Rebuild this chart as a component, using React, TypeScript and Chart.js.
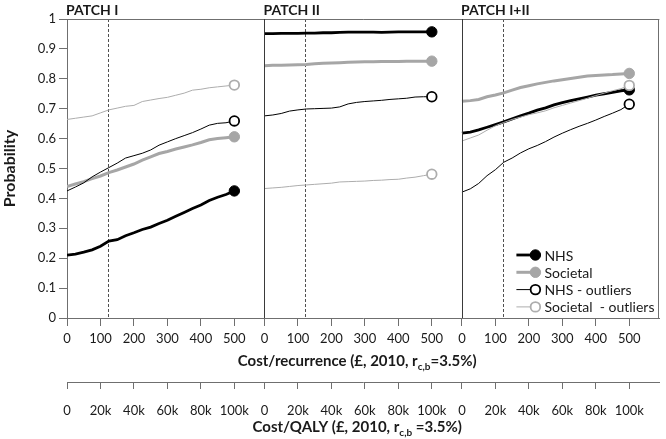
import { useEffect, useRef } from 'react';
import { Chart, registerables } from 'chart.js';

Chart.register(...registerables);

// ---------------- data ----------------
const PANELS = ['PATCH I', 'PATCH II', 'PATCH I+II'];
const PANEL_SPAN = 590; // axis units reserved for each panel (0..500 plotted)
const THRESHOLD = 122; // dashed reference line (cost/recurrence)
const COSTS = [0, 25, 50, 75, 100, 125, 150, 175, 200, 225, 250, 275, 300, 325, 350, 375, 400, 425, 450, 475, 500];
const X_TICKS = [0, 100, 200, 300, 400, 500];
const QALY_LABELS = ['0', '20k', '40k', '60k', '80k', '100k'];
const Y_TICKS = [0, 0.1, 0.2, 0.3, 0.4, 0.5, 0.6, 0.7, 0.8, 0.9, 1];
const SERIES_NAMES = ['NHS', 'Societal', 'NHS - outliers', 'Societal  - outliers'];

// PATCH I
const NHS_I = [0.210, 0.214, 0.220, 0.228, 0.240, 0.257, 0.262, 0.275, 0.285, 0.296, 0.304, 0.316, 0.327, 0.340, 0.353, 0.366, 0.378, 0.393, 0.404, 0.413, 0.425];
const SOC_I = [0.440, 0.448, 0.456, 0.466, 0.475, 0.486, 0.495, 0.505, 0.515, 0.528, 0.539, 0.550, 0.557, 0.565, 0.572, 0.579, 0.587, 0.596, 0.600, 0.603, 0.606];
const NHS_OUT_I = [0.425, 0.438, 0.452, 0.472, 0.488, 0.503, 0.518, 0.535, 0.543, 0.551, 0.562, 0.578, 0.589, 0.600, 0.610, 0.620, 0.632, 0.645, 0.651, 0.653, 0.659];
const SOC_OUT_I = [0.664, 0.668, 0.672, 0.676, 0.686, 0.696, 0.702, 0.708, 0.711, 0.724, 0.729, 0.734, 0.738, 0.745, 0.752, 0.762, 0.765, 0.770, 0.773, 0.776, 0.779];
// PATCH II
const NHS_II = [0.951, 0.951, 0.952, 0.952, 0.952, 0.953, 0.953, 0.954, 0.954, 0.955, 0.956, 0.956, 0.956, 0.956, 0.955, 0.956, 0.957, 0.957, 0.957, 0.957, 0.957];
const SOC_II = [0.844, 0.845, 0.845, 0.846, 0.847, 0.848, 0.850, 0.852, 0.853, 0.854, 0.855, 0.856, 0.857, 0.857, 0.858, 0.858, 0.858, 0.859, 0.859, 0.859, 0.859];
const NHS_OUT_II = [0.676, 0.679, 0.684, 0.692, 0.696, 0.699, 0.700, 0.701, 0.702, 0.706, 0.716, 0.721, 0.724, 0.726, 0.728, 0.731, 0.733, 0.735, 0.739, 0.740, 0.740];
const SOC_OUT_II = [0.433, 0.435, 0.437, 0.440, 0.443, 0.445, 0.447, 0.449, 0.451, 0.455, 0.456, 0.457, 0.458, 0.460, 0.461, 0.463, 0.464, 0.468, 0.471, 0.476, 0.481];
// PATCH I+II
const NHS_III = [0.618, 0.622, 0.629, 0.638, 0.647, 0.656, 0.666, 0.676, 0.685, 0.695, 0.703, 0.713, 0.720, 0.727, 0.733, 0.739, 0.745, 0.750, 0.755, 0.760, 0.763];
const SOC_III = [0.725, 0.727, 0.731, 0.740, 0.746, 0.753, 0.762, 0.771, 0.777, 0.783, 0.788, 0.793, 0.797, 0.801, 0.805, 0.809, 0.811, 0.813, 0.814, 0.816, 0.818];
const NHS_OUT_III = [0.421, 0.432, 0.450, 0.476, 0.496, 0.521, 0.535, 0.552, 0.566, 0.577, 0.590, 0.605, 0.618, 0.630, 0.641, 0.651, 0.662, 0.674, 0.685, 0.697, 0.715];
const SOC_OUT_III = [0.592, 0.602, 0.612, 0.628, 0.643, 0.654, 0.664, 0.672, 0.680, 0.686, 0.693, 0.703, 0.711, 0.719, 0.727, 0.735, 0.744, 0.752, 0.760, 0.767, 0.778];

// ---------------- styling ----------------
const FONT = 'Lato, "Open Sans", sans-serif';
const TEXT = '#1a1a1a';
const AXIS = '#6f6f6f';
const GRAY = '#a6a6a6';
const LIGHT = '#adadad';

const STYLES = [
  { color: '#000000', width: 2.8, fill: '#000000', border: '#000000', bw: 1, r: 5.2 },
  { color: GRAY, width: 3, fill: GRAY, border: GRAY, bw: 1, r: 5.2 },
  { color: '#000000', width: 1, fill: '#ffffff', border: '#000000', bw: 1.8, r: 4.8 },
  { color: LIGHT, width: 1, fill: '#ffffff', border: LIGHT, bw: 1.8, r: 4.8 },
];

const SERIES_VALUES = [
  [NHS_I, NHS_II, NHS_III],
  [SOC_I, SOC_II, SOC_III],
  [NHS_OUT_I, NHS_OUT_II, NHS_OUT_III],
  [SOC_OUT_I, SOC_OUT_II, SOC_OUT_III],
];

function buildDataset(si: number) {
  const data: any[] = [];
  const radius: number[] = [];
  SERIES_VALUES[si].forEach((vals, p) => {
    vals.forEach((v, i) => {
      data.push({ x: COSTS[i] + p * PANEL_SPAN, y: v });
      radius.push(i === vals.length - 1 ? STYLES[si].r : 0);
    });
    if (p < 2) {
      data.push({ x: p * PANEL_SPAN + 545, y: null });
      radius.push(0);
    }
  });
  const st = STYLES[si];
  return {
    label: SERIES_NAMES[si],
    data,
    borderColor: st.color,
    borderWidth: st.width,
    backgroundColor: st.fill,
    pointBackgroundColor: st.fill,
    pointBorderColor: st.border,
    pointBorderWidth: st.bw,
    pointRadius: radius,
    pointHoverRadius: radius,
    tension: 0,
    spanGaps: false,
    fill: false,
    order: 4 - si,
  };
}

function drawRich(ctx: CanvasRenderingContext2D, parts: { t: string; size: number; dy: number }[], cx: number, cy: number) {
  let total = 0;
  parts.forEach((p) => {
    ctx.font = `bold ${p.size}px ${FONT}`;
    total += ctx.measureText(p.t).width;
  });
  let x = cx - total / 2;
  ctx.textAlign = 'left';
  ctx.textBaseline = 'middle';
  ctx.fillStyle = TEXT;
  parts.forEach((p) => {
    ctx.font = `bold ${p.size}px ${FONT}`;
    ctx.fillText(p.t, x, cy + p.dy);
    x += ctx.measureText(p.t).width;
  });
}

const decorPlugin = {
  id: 'decor',
  beforeDatasetsDraw(chart: any) {
    const { ctx, chartArea, scales } = chart;
    ctx.save();
    ctx.strokeStyle = '#505050';
    ctx.lineWidth = 1;
    ctx.setLineDash([3, 2]);
    for (let p = 0; p < 3; p++) {
      const x = Math.round(scales.x.getPixelForValue(THRESHOLD + p * PANEL_SPAN)) + 0.5;
      ctx.beginPath();
      ctx.moveTo(x, chartArea.top);
      ctx.lineTo(x, chartArea.bottom);
      ctx.stroke();
    }
    ctx.restore();
  },
  afterDraw(chart: any) {
    const { ctx, chartArea, scales } = chart;
    const { left, right, top, bottom } = chartArea;
    ctx.save();
    // frame and panel dividers
    ctx.strokeStyle = AXIS;
    ctx.lineWidth = 1;
    ctx.beginPath();
    ctx.moveTo(left, top + 0.5);
    ctx.lineTo(right, top + 0.5);
    ctx.moveTo(Math.round(right) - 0.5, top);
    ctx.lineTo(Math.round(right) - 0.5, bottom);
    ctx.stroke();
    ctx.strokeStyle = '#3a3a3a';
    ctx.beginPath();
    for (let p = 1; p < 3; p++) {
      const x = Math.round(scales.x.getPixelForValue(p * PANEL_SPAN)) + 0.5;
      ctx.moveTo(x, top);
      ctx.lineTo(x, bottom);
    }
    ctx.stroke();

    // panel titles
    ctx.fillStyle = TEXT;
    ctx.font = `bold 14px ${FONT}`;
    ctx.textAlign = 'left';
    ctx.textBaseline = 'middle';
    PANELS.forEach((t, p) => {
      ctx.fillText(t, scales.x.getPixelForValue(p * PANEL_SPAN) - 1, top - 9);
    });

    // axis titles with subscripts
    const cx = (left + right) / 2 - 6;
    drawRich(ctx, [
      { t: 'Cost/recurrence (£, 2010, r', size: 15, dy: 0 },
      { t: 'c,b', size: 10, dy: 6 },
      { t: '=3.5%)', size: 15, dy: 0 },
    ], cx, bottom + 43);
    drawRich(ctx, [
      { t: 'Cost/QALY (£, 2010, r', size: 15, dy: 0 },
      { t: 'c,b', size: 10, dy: 6 },
      { t: ' =3.5%)', size: 15, dy: 0 },
    ], cx, bottom + 109);

    // legend
    const lx0 = right - 143;
    const lx1 = right - 124;
    const tx = right - 115;
    chart.data.datasets.forEach((ds: any, i: number) => {
      const y = bottom - 63 + i * 17.3;
      ctx.strokeStyle = ds.borderColor;
      ctx.lineWidth = ds.borderWidth;
      ctx.beginPath();
      ctx.moveTo(lx0, y);
      ctx.lineTo(lx1, y);
      ctx.stroke();
      ctx.beginPath();
      ctx.arc(lx1, y, STYLES[i].r, 0, Math.PI * 2);
      ctx.fillStyle = ds.pointBackgroundColor;
      ctx.fill();
      ctx.lineWidth = ds.pointBorderWidth;
      ctx.strokeStyle = ds.pointBorderColor;
      ctx.stroke();
      ctx.fillStyle = TEXT;
      ctx.font = `14px ${FONT}`;
      ctx.textAlign = 'left';
      ctx.textBaseline = 'middle';
      ctx.fillText(ds.label, tx, y + 1);
    });
    ctx.restore();
  },
};

function panelTicks() {
  const t: { value: number }[] = [];
  for (let p = 0; p < 3; p++) X_TICKS.forEach((v) => t.push({ value: v + p * PANEL_SPAN }));
  return t;
}

export default function App() {
  const ref = useRef<HTMLCanvasElement | null>(null);
  useEffect(() => {
    if (!ref.current) return;
    const chart = new Chart(ref.current, {
      type: 'line',
      data: { datasets: [0, 1, 2, 3].map(buildDataset) as any },
      plugins: [decorPlugin as any],
      options: {
        responsive: false,
        animation: false,
        events: [],
        layout: { padding: { top: 19, right: 5, left: 0, bottom: 0 } },
        plugins: { legend: { display: false }, tooltip: { enabled: false } },
        scales: {
          x: {
            type: 'linear',
            position: 'bottom',
            weight: 0,
            min: 0,
            max: 3 * PANEL_SPAN,
            afterBuildTicks: (s: any) => { s.ticks = panelTicks(); },
            afterFit: (s: any) => { s.height = 64; },
            grid: { drawOnChartArea: false, drawTicks: true, tickLength: 8, color: AXIS },
            border: { color: AXIS },
            ticks: {
              autoSkip: false,
              maxRotation: 0,
              padding: 5,
              color: TEXT,
              font: { family: FONT, size: 13 },
              callback: (v: any) => String(Math.round(Number(v) % PANEL_SPAN)),
            },
          },
          x2: {
            type: 'linear',
            position: 'bottom',
            weight: 1,
            min: 0,
            max: 3 * PANEL_SPAN,
            afterBuildTicks: (s: any) => { s.ticks = panelTicks(); },
            afterFit: (s: any) => { s.height = 57; },
            grid: { drawOnChartArea: false, drawTicks: true, tickLength: 7, color: AXIS },
            border: { color: AXIS },
            ticks: {
              autoSkip: false,
              maxRotation: 0,
              padding: 14,
              color: TEXT,
              font: { family: FONT, size: 13 },
              callback: (v: any) => QALY_LABELS[X_TICKS.indexOf(Math.round(Number(v) % PANEL_SPAN))] ?? '',
            },
          },
          y: {
            min: 0,
            max: 1,
            afterBuildTicks: (s: any) => { s.ticks = Y_TICKS.map((v) => ({ value: v })); },
            afterFit: (s: any) => { s.width = 67; },
            grid: { drawOnChartArea: false, drawTicks: true, tickLength: 8, color: AXIS },
            border: { color: AXIS },
            title: {
              display: true,
              text: 'Probability',
              color: TEXT,
              font: { family: FONT, size: 16, weight: 'bold' },
              padding: { top: 0, bottom: 0 },
            },
            ticks: {
              padding: 3,
              color: TEXT,
              font: { family: FONT, size: 13 },
              callback: (v: any) => (v === 0 ? '0' : v === 1 ? '1' : Number(v).toFixed(1)),
            },
          },
        },
      } as any,
    });
    return () => chart.destroy();
  }, []);
  return (
    <div style={{ position: 'fixed', left: 0, top: 0, width: 666, height: 439, background: '#fff' }}>
      <canvas ref={ref} width={666} height={439} style={{ display: 'block' }} />
    </div>
  );
}
